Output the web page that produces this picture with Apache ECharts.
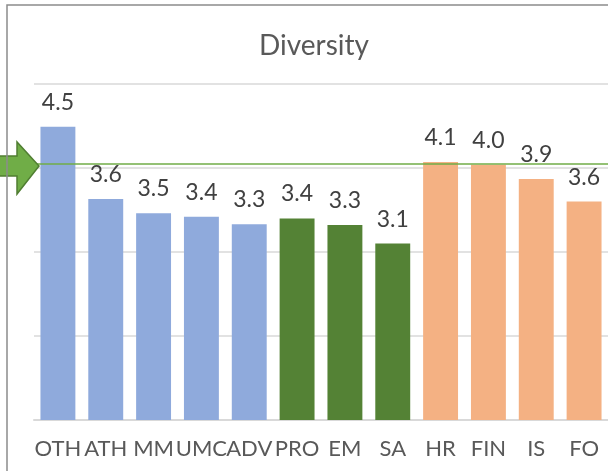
<!DOCTYPE html>
<html>
<head>
<meta charset="utf-8">
<script src="https://cdn.jsdelivr.net/npm/echarts@6/dist/echarts.min.js"></script>
<style>
  html, body { margin: 0; padding: 0; background: #fff; }
  #chart { width: 608px; height: 471px; }
</style>
</head>
<body>
<div id="chart"></div>
<script>
// categories and values
var categories = ['OTH', 'ATH', 'MM', 'UMC', 'ADV', 'PRO', 'EM', 'SA', 'HR', 'FIN', 'IS', 'FO'];
var scores = [4.49, 3.63, 3.46, 3.42, 3.33, 3.40, 3.32, 3.10, 4.07, 4.04, 3.87, 3.60];
var groups = ['a', 'a', 'a', 'a', 'a', 'b', 'b', 'b', 'c', 'c', 'c', 'c'];
var refLevel = [4.05];

var groupColors = { a: '#8FAADC', b: '#548235', c: '#F4B183' };

var barData = scores.map(function (v, i) {
  return { value: v, itemStyle: { color: groupColors[groups[i]] } };
});

var myChart = echarts.init(document.getElementById('chart'));
var option = {
  backgroundColor: '#fff',
  animation: false,
  title: {
    text: 'Diversity',
    left: 309,
    top: 27,
    textAlign: 'center',
    textStyle: { fontFamily: 'Lato', fontSize: 28, fontWeight: 'normal', color: '#595959' }
  },
  grid: { left: 34, right: -2, top: 84, bottom: 51 },
  xAxis: {
    type: 'category',
    data: categories,
    axisTick: { show: false },
    axisLine: { lineStyle: { color: '#d9d9d9', width: 2 } },
    axisLabel: { fontFamily: 'Lato', fontSize: 22, color: '#595959', margin: 18, interval: 0 }
  },
  yAxis: {
    type: 'value',
    min: 1,
    max: 5,
    interval: 1,
    axisLabel: { show: false },
    axisLine: { show: false },
    axisTick: { show: false },
    splitLine: { lineStyle: { color: '#d9d9d9', width: 1.5 } }
  },
  series: [{
    type: 'bar',
    data: barData,
    barCategoryGap: '27%',
    label: {
      show: true,
      position: 'top',
      distance: 13,
      fontFamily: 'Lato',
      fontSize: 23,
      color: '#404040',
      formatter: function (p) { return p.value.toFixed(1); }
    },
    markLine: {
      silent: true,
      symbol: 'none',
      label: { show: false },
      lineStyle: { color: '#70AD47', type: 'solid', width: 1.5 },
      data: [{ yAxis: refLevel[0] }]
    }
  }],
  graphic: [
    {
      // green arrow on the left edge
      type: 'polygon',
      z: 10,
      shape: { points: [[-2, 156], [17, 156], [17, 142], [39, 166], [17, 194], [17, 176], [-2, 176]] },
      style: { fill: '#70AD47', stroke: '#507E32', lineWidth: 1.5 }
    },
    {
      // outer frame
      type: 'rect',
      z: 20,
      shape: { x: 7, y: 5, width: 700, height: 600 },
      style: { fill: 'none', stroke: '#8c8c8c', lineWidth: 1.5 }
    }
  ]
};
myChart.setOption(option);
</script>
</body>
</html>
